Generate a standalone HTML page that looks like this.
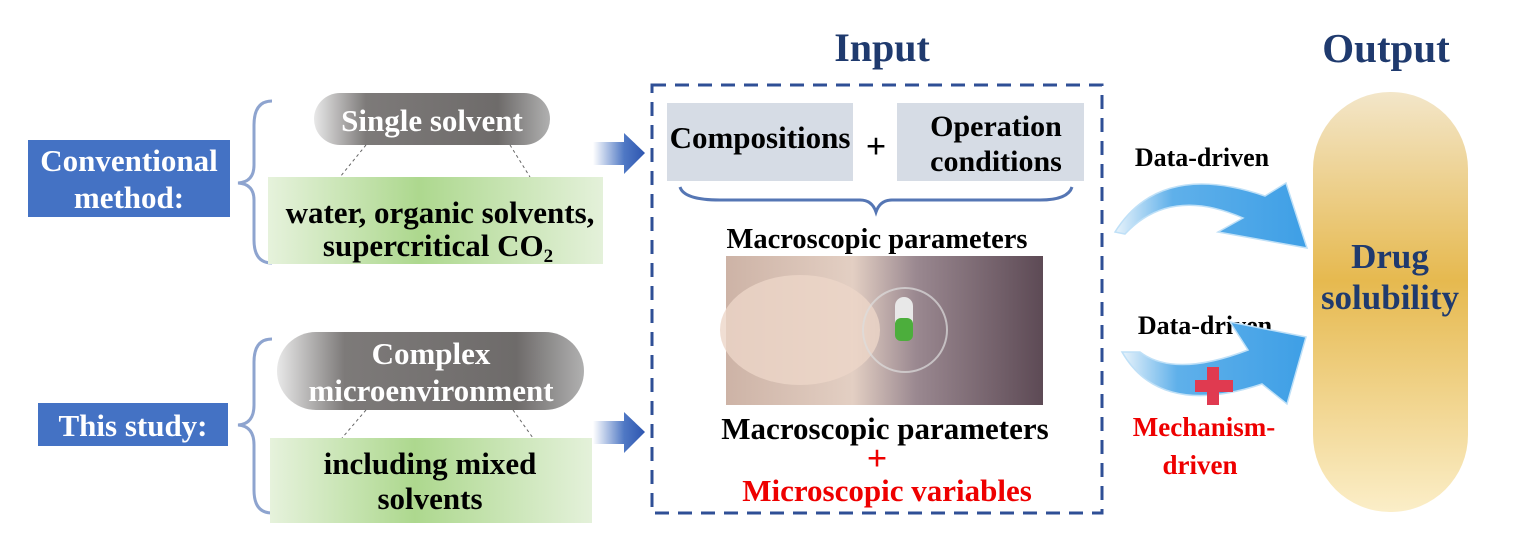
<!DOCTYPE html>
<html><head><meta charset="utf-8"><style>
html,body{margin:0;padding:0;background:#fff;}
svg{display:block;}
text{font-family:"Liberation Serif",serif;font-weight:bold;}
</style></head><body>
<svg width="1534" height="557" viewBox="0 0 1534 557" xmlns="http://www.w3.org/2000/svg">
<defs>
<linearGradient id="gray" x1="0" x2="1" y1="0" y2="0">
<stop offset="0" stop-color="#e8e8e8"/><stop offset="0.22" stop-color="#7d7a79"/><stop offset="0.78" stop-color="#6e6b6a"/><stop offset="1" stop-color="#b0b0b0"/></linearGradient>
<linearGradient id="green" x1="0" x2="1" y1="0" y2="0">
<stop offset="0" stop-color="#e6f2dc"/><stop offset="0.45" stop-color="#add88e"/><stop offset="1" stop-color="#e4f1da"/></linearGradient>
<linearGradient id="gold" x1="0" x2="0" y1="0" y2="1">
<stop offset="0" stop-color="#f3e6c9"/><stop offset="0.45" stop-color="#e6b94f"/><stop offset="1" stop-color="#fbeec8"/></linearGradient>
<linearGradient id="barr" x1="0" x2="1" y1="0" y2="0">
<stop offset="0" stop-color="#ffffff"/><stop offset="0.6" stop-color="#4f78c4"/><stop offset="1" stop-color="#2d55b0"/></linearGradient>
<linearGradient id="photo" x1="0" x2="1" y1="0" y2="0">
<stop offset="0" stop-color="#cdb3a6"/><stop offset="0.4" stop-color="#e3cfc3"/><stop offset="0.6" stop-color="#9a8890"/><stop offset="1" stop-color="#5d4a55"/></linearGradient>
<linearGradient id="blue1" x1="0" x2="1" y1="0" y2="0">
<stop offset="0" stop-color="#e8f3fb"/><stop offset="0.3" stop-color="#5fb0ea"/><stop offset="1" stop-color="#3e9fe6"/></linearGradient>
</defs>

<!-- Left labels -->
<rect x="28" y="140" width="202" height="77" fill="#4472c4"/>
<text x="129" y="171" font-size="31" fill="#fff" text-anchor="middle">Conventional</text>
<text x="129" y="208" font-size="31" fill="#fff" text-anchor="middle">method:</text>
<rect x="38" y="403" width="190" height="43" fill="#4472c4"/>
<text x="133" y="436" font-size="31" fill="#fff" text-anchor="middle">This study:</text>

<!-- braces -->
<path d="M272,101 Q254,101 254,125 L254,165 Q254,182 238,183 Q254,184 254,200 L254,240 Q254,263 272,263" fill="none" stroke="#8ea4cf" stroke-width="3"/>
<path d="M272,339 Q254,339 254,362 L254,405 Q254,424 238,425 Q254,426 254,445 L254,490 Q254,513 272,513" fill="none" stroke="#8ea4cf" stroke-width="3"/>

<!-- top group -->
<rect x="314" y="93" width="236" height="52" rx="26" fill="url(#gray)"/>
<text x="432" y="131" font-size="31" fill="#fff" text-anchor="middle">Single solvent</text>
<line x1="366" y1="145" x2="340" y2="177" stroke="#666" stroke-dasharray="3,3"/>
<line x1="510" y1="145" x2="530" y2="177" stroke="#666" stroke-dasharray="3,3"/>
<rect x="268" y="177" width="335" height="87" fill="url(#green)"/>
<text x="440" y="223" font-size="31" fill="#000" text-anchor="middle">water, organic solvents,</text>
<text x="438" y="256" font-size="31" fill="#000" text-anchor="middle">supercritical CO<tspan font-size="19" dy="6">2</tspan></text>

<!-- bottom group -->
<rect x="277" y="332" width="307" height="78" rx="39" fill="url(#gray)"/>
<text x="431" y="364" font-size="31" fill="#fff" text-anchor="middle">Complex</text>
<text x="431" y="401" font-size="31" fill="#fff" text-anchor="middle">microenvironment</text>
<line x1="366" y1="410" x2="342" y2="438" stroke="#666" stroke-dasharray="3,3"/>
<line x1="513" y1="410" x2="533" y2="438" stroke="#666" stroke-dasharray="3,3"/>
<rect x="270" y="438" width="322" height="85" fill="url(#green)"/>
<text x="430" y="474" font-size="31" fill="#000" text-anchor="middle">including mixed</text>
<text x="430" y="509" font-size="31" fill="#000" text-anchor="middle">solvents</text>

<!-- block arrows -->
<path d="M593,142 L624,142 L624,133 L645,153 L624,174 L624,165 L593,165 Z" fill="url(#barr)"/>
<path d="M593,421 L624,421 L624,412 L645,432 L624,453 L624,444 L593,444 Z" fill="url(#barr)"/>

<!-- Input -->
<text x="882" y="61" font-size="40" fill="#1f3a6e" text-anchor="middle">Input</text>
<rect x="652" y="85" width="450" height="428" fill="none" stroke="#2f4f96" stroke-width="3" stroke-dasharray="14,9"/>
<rect x="667" y="103" width="186" height="78" fill="#d6dce5"/>
<text x="760" y="148" font-size="31" fill="#000" text-anchor="middle">Compositions</text>
<text x="876" y="158" font-size="36" fill="#000" text-anchor="middle">+</text>
<rect x="897" y="103" width="187" height="78" fill="#d6dce5"/>
<text x="996" y="136" font-size="30" fill="#000" text-anchor="middle">Operation</text>
<text x="996" y="171" font-size="30" fill="#000" text-anchor="middle">conditions</text>
<path d="M680,187 Q684,200 720,200 L860,200 Q872,200 876,212 Q880,200 892,200 L1040,200 Q1068,200 1072,187" fill="none" stroke="#5576b4" stroke-width="3"/>
<text x="877" y="248" font-size="28.5" fill="#000" text-anchor="middle">Macroscopic parameters</text>
<rect x="726" y="256" width="317" height="149" fill="url(#photo)"/>
<ellipse cx="800" cy="330" rx="80" ry="55" fill="#ecd6c8" opacity="0.8"/>
<ellipse cx="905" cy="330" rx="42" ry="42" fill="none" stroke="#ddd" stroke-width="2" opacity="0.7"/>
<rect x="895" y="297" width="18" height="44" rx="9" fill="#e8e8e8"/>
<rect x="895" y="318" width="18" height="23" rx="6" fill="#4cae3c"/>
<text x="885" y="439" font-size="31" fill="#000" text-anchor="middle">Macroscopic parameters</text>
<text x="877" y="470" font-size="36" fill="#e00" text-anchor="middle">+</text>
<text x="887" y="501" font-size="31" fill="#e00" text-anchor="middle">Microscopic variables</text>

<!-- curved arrows -->
<text x="1202" y="166" font-size="26" fill="#000" text-anchor="middle">Data-driven</text>
<path d="M1115,232 Q1160,160 1265,196 L1286,183 L1307,248 L1218,232 L1243,218 Q1170,186 1125,234 Z" fill="url(#blue1)" stroke="#bfe0f7" stroke-width="1.5"/>
<text x="1205" y="334" font-size="26" fill="#000" text-anchor="middle">Data-driven</text>
<path d="M1122,352 Q1160,418 1262,384 L1287,404 L1306,337 L1230,322 L1248,350 Q1175,378 1140,352 Z" fill="url(#blue1)" stroke="#bfe0f7" stroke-width="1.5"/>
<rect x="1207" y="367" width="12" height="38" fill="#e03a50"/>
<rect x="1195" y="380" width="38" height="12" fill="#e03a50"/>
<text x="1204" y="436" font-size="27" fill="#e00" text-anchor="middle">Mechanism-</text>
<text x="1200" y="474" font-size="27" fill="#e00" text-anchor="middle">driven</text>

<!-- Output -->
<text x="1386" y="62" font-size="41" fill="#1f3a6e" text-anchor="middle">Output</text>
<rect x="1313" y="92" width="155" height="420" rx="77" fill="url(#gold)"/>
<text x="1390" y="268" font-size="35" fill="#1f3a6e" text-anchor="middle">Drug</text>
<text x="1390" y="309" font-size="35" fill="#1f3a6e" text-anchor="middle">solubility</text>
</svg>
</body></html>
